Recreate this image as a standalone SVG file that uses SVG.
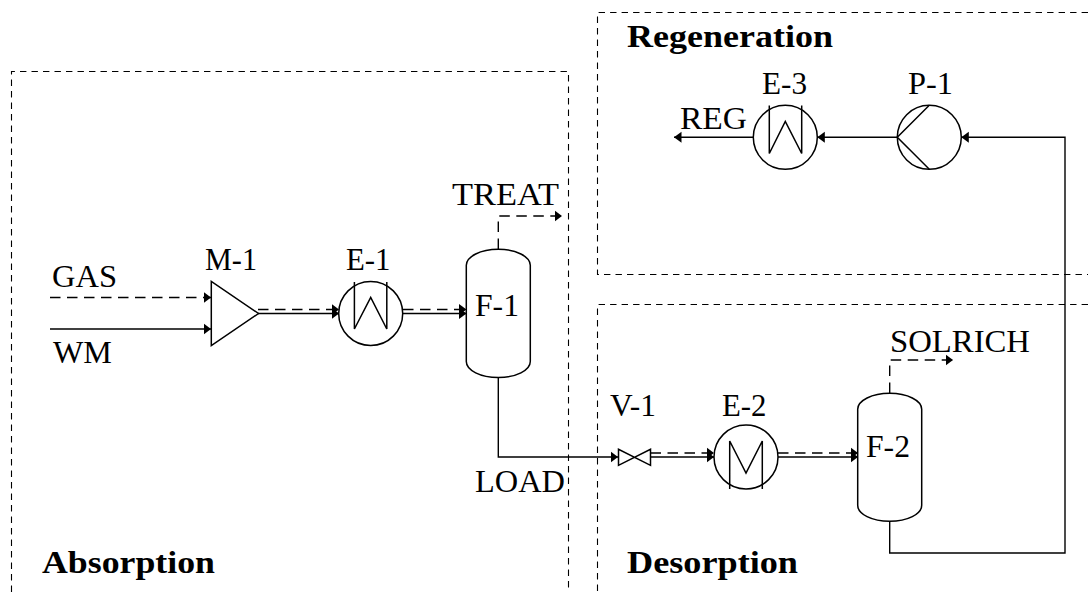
<svg xmlns="http://www.w3.org/2000/svg" width="1088" height="592" viewBox="0 0 1088 592">
<style>
.s{fill:none;stroke:#000;stroke-width:1.4}
.p{fill:none;stroke:#000;stroke-width:1.5}
.b{fill:none;stroke:#000;stroke-width:1.1;stroke-dasharray:6.4 5.1}
.d{stroke-dasharray:10.5 6.5}
.a{marker-end:url(#arr)}
text{font-family:"Liberation Serif","Times New Roman",serif;font-size:30.5px;fill:#000}
.h{font-weight:700}
</style>
<defs>
<marker id="arr" markerUnits="userSpaceOnUse" markerWidth="8" markerHeight="12" refX="7.500" refY="6" orient="auto" viewBox="0 0 8 12"><path d="M0 0.500L7.500 6L0 11.500Z" fill="#000"/></marker>
</defs>
<rect width="1088" height="592" fill="#fff"/>
<g id="sections">
<path class="b" d="M11.500 592V71.500H568.500V592"/>
<path class="b" d="M1088 12.500H597.500V274.500H1088"/>
<path class="b" d="M1088 304.500H597.500V592"/>
</g>
<g id="connectors">
<path class="s d a" d="M50 297.500H211"/>
<path class="s a" d="M50 329H211"/>
<path class="s d a" d="M258 309.500H339"/>
<path class="s a" d="M258 313.500H339"/>
<path class="s d a" d="M403 309.500H466.500"/>
<path class="s a" d="M403 313.500H466.500"/>
<path class="s d a" d="M498.300 249V216H562"/>
<path class="s a" d="M498.300 377V457H618"/>
<path class="s d a" d="M650.500 453H714"/>
<path class="s a" d="M650.500 457H714"/>
<path class="s d a" d="M778 453H858"/>
<path class="s a" d="M778 457H858"/>
<path class="s d a" d="M889.700 393V360H953"/>
<path class="s a" d="M889.700 521V553H1065V137.300H961.300"/>
<path class="s a" d="M897.300 137.300H817.300"/>
<path class="s a" d="M753.300 137.300H674"/>
</g>
<g id="M-1"><path class="p" d="M211.300 281.500V345.500L258.500 313.500Z"/><text x="205" y="270" textLength="52" lengthAdjust="spacingAndGlyphs">M-1</text></g>
<g id="E-1"><circle class="p" cx="370.700" cy="313.500" r="32"/><path class="p" d="M354.400 282V329L370.700 297.500L386.800 329V282"/><text x="346" y="270" textLength="44.500" lengthAdjust="spacingAndGlyphs">E-1</text></g>
<g id="F-1"><path class="p" d="M466.300 265.300A32 16 0 0 1 530.300 265.300V361.500A32 16 0 0 1 466.300 361.500Z"/><text x="475" y="316" textLength="44" lengthAdjust="spacingAndGlyphs">F-1</text></g>
<g id="V-1"><path class="p" d="M618.500 449.300V465.300L650.500 449.300V465.300Z"/><text x="610" y="416" textLength="46" lengthAdjust="spacingAndGlyphs">V-1</text></g>
<g id="E-2"><circle class="p" cx="746" cy="457" r="32"/><path class="p" d="M729.700 489V441L746 473L762.300 441V489"/><text x="722" y="416" textLength="44.500" lengthAdjust="spacingAndGlyphs">E-2</text></g>
<g id="F-2"><path class="p" d="M857.700 409.300A32 16 0 0 1 921.700 409.300V505.300A32 16 0 0 1 857.700 505.300Z"/><text x="866" y="457" textLength="44" lengthAdjust="spacingAndGlyphs">F-2</text></g>
<g id="E-3"><circle class="p" cx="785.300" cy="137.300" r="32"/><path class="p" d="M769.300 105.500V153.500L785.300 121.500L801.700 153.500V105.500"/><text x="762" y="94" textLength="45" lengthAdjust="spacingAndGlyphs">E-3</text></g>
<g id="P-1"><circle class="p" cx="929.300" cy="137.300" r="32"/><path class="p" d="M929.300 105.300L897.300 137.300L929.300 169.300"/><text x="908" y="94" textLength="45" lengthAdjust="spacingAndGlyphs">P-1</text></g>
<g id="labels">
<text x="52" y="287" textLength="65" lengthAdjust="spacingAndGlyphs">GAS</text>
<text x="53" y="363" textLength="59" lengthAdjust="spacingAndGlyphs">WM</text>
<text x="452" y="205" textLength="107" lengthAdjust="spacingAndGlyphs">TREAT</text>
<text x="475" y="492" textLength="90" lengthAdjust="spacingAndGlyphs">LOAD</text>
<text x="890" y="352" textLength="140" lengthAdjust="spacingAndGlyphs">SOLRICH</text>
<text x="680" y="129" textLength="67" lengthAdjust="spacingAndGlyphs">REG</text>
<text class="h" x="42" y="573" textLength="173" lengthAdjust="spacingAndGlyphs">Absorption</text>
<text class="h" x="627" y="573" textLength="171" lengthAdjust="spacingAndGlyphs">Desorption</text>
<text class="h" x="627" y="47" textLength="206" lengthAdjust="spacingAndGlyphs">Regeneration</text>
</g>
</svg>
